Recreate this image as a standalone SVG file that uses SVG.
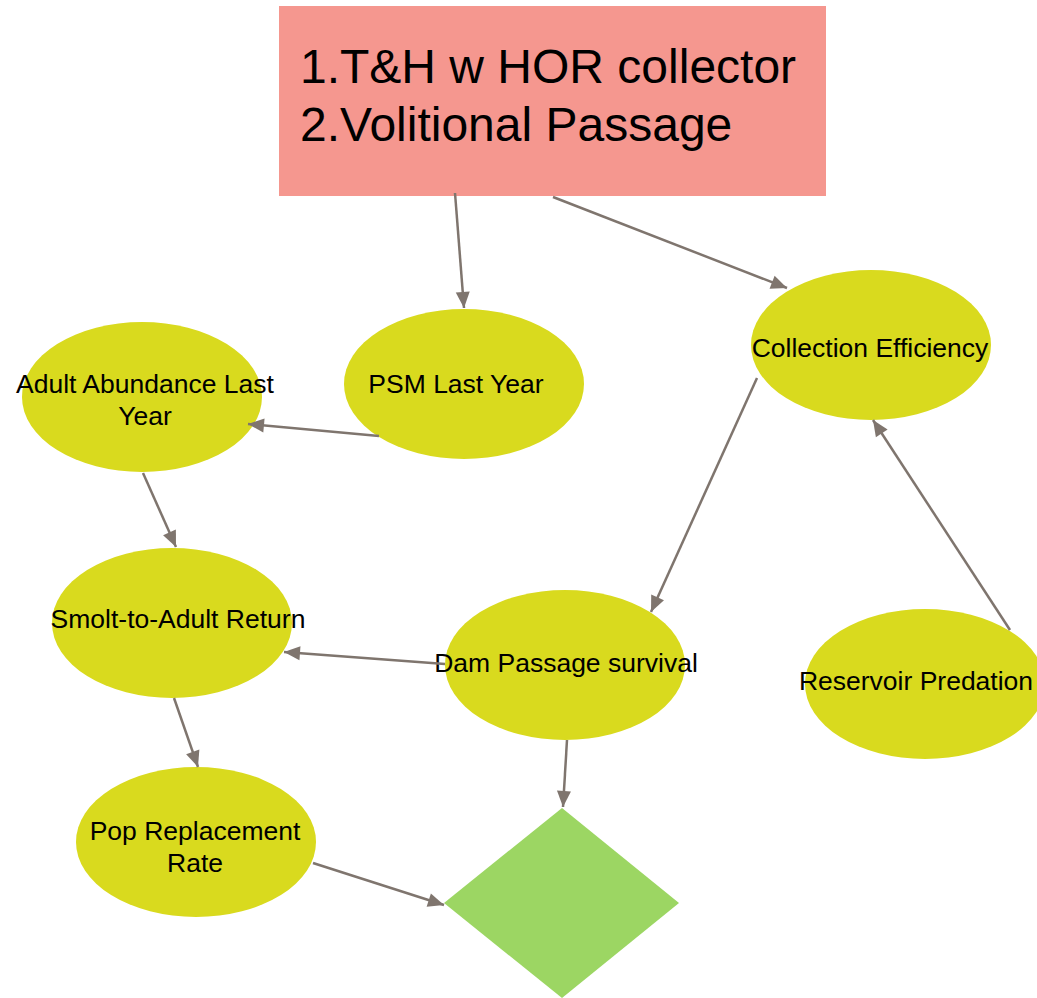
<svg xmlns="http://www.w3.org/2000/svg" width="1037" height="998" viewBox="0 0 1037 998">
<defs>
<style>
.n{fill:#D9DA1E}
.t{font-family:"Liberation Sans",Arial,sans-serif;font-size:26.5px;fill:#000;text-anchor:middle}
.h{font-family:"Liberation Sans",Arial,sans-serif;font-size:48px;fill:#000}
.c line{stroke:#7F756E;stroke-width:2.5;marker-end:url(#a)}
</style>
<marker id="a" markerWidth="20" markerHeight="20" refX="0" refY="0" orient="auto" markerUnits="userSpaceOnUse" style="overflow:visible">
<path d="M-16,-7 L0,0 L-16,7 z" fill="#7F756E"/>
</marker>
</defs>
<rect width="1037" height="998" fill="#fff"/>
<g id="top">
<rect x="279" y="6" width="547" height="190" fill="#F5978F"/>
<text class="h" x="300" y="83">1.T&amp;H w HOR collector</text>
<text class="h" x="300" y="141">2.Volitional Passage</text>
</g>
<g id="psm"><ellipse class="n" cx="464" cy="384" rx="120" ry="75"/><text class="t" x="456" y="393">PSM Last Year</text></g>
<g id="coll"><ellipse class="n" cx="871" cy="345" rx="120" ry="75"/><text class="t" x="870" y="357">Collection Efficiency</text></g>
<g id="adult"><ellipse class="n" cx="142" cy="397" rx="120" ry="75"/><text class="t" x="145" y="393">Adult Abundance Last</text><text class="t" x="145" y="425">Year</text></g>
<g id="sar"><ellipse class="n" cx="172" cy="623" rx="120" ry="75"/><text class="t" x="178" y="628">Smolt-to-Adult Return</text></g>
<g id="dam"><ellipse class="n" cx="565" cy="665" rx="120" ry="75"/><text class="t" x="566" y="672">Dam Passage survival</text></g>
<g id="res"><ellipse class="n" cx="925" cy="684" rx="120" ry="75"/><text class="t" x="916" y="690">Reservoir Predation</text></g>
<g id="pop"><ellipse class="n" cx="196" cy="842" rx="120" ry="75"/><text class="t" x="195" y="840">Pop Replacement</text><text class="t" x="195" y="872">Rate</text></g>
<g id="dia"><polygon points="562,808 679,903 562,998 444,903" fill="#9CD663"/></g>
<g class="c" id="connectors">
<line x1="455" y1="193" x2="464" y2="308"/>
<line x1="553" y1="197" x2="787" y2="288"/>
<line x1="379" y1="436" x2="248" y2="424"/>
<line x1="143" y1="473" x2="176" y2="547"/>
<line x1="757" y1="378" x2="651" y2="612"/>
<line x1="1010" y1="630" x2="873" y2="420"/>
<line x1="445" y1="664" x2="284" y2="652"/>
<line x1="174" y1="698" x2="198" y2="767"/>
<line x1="567" y1="740" x2="563" y2="807"/>
<line x1="313" y1="863" x2="444" y2="905"/>
</g>
</svg>
